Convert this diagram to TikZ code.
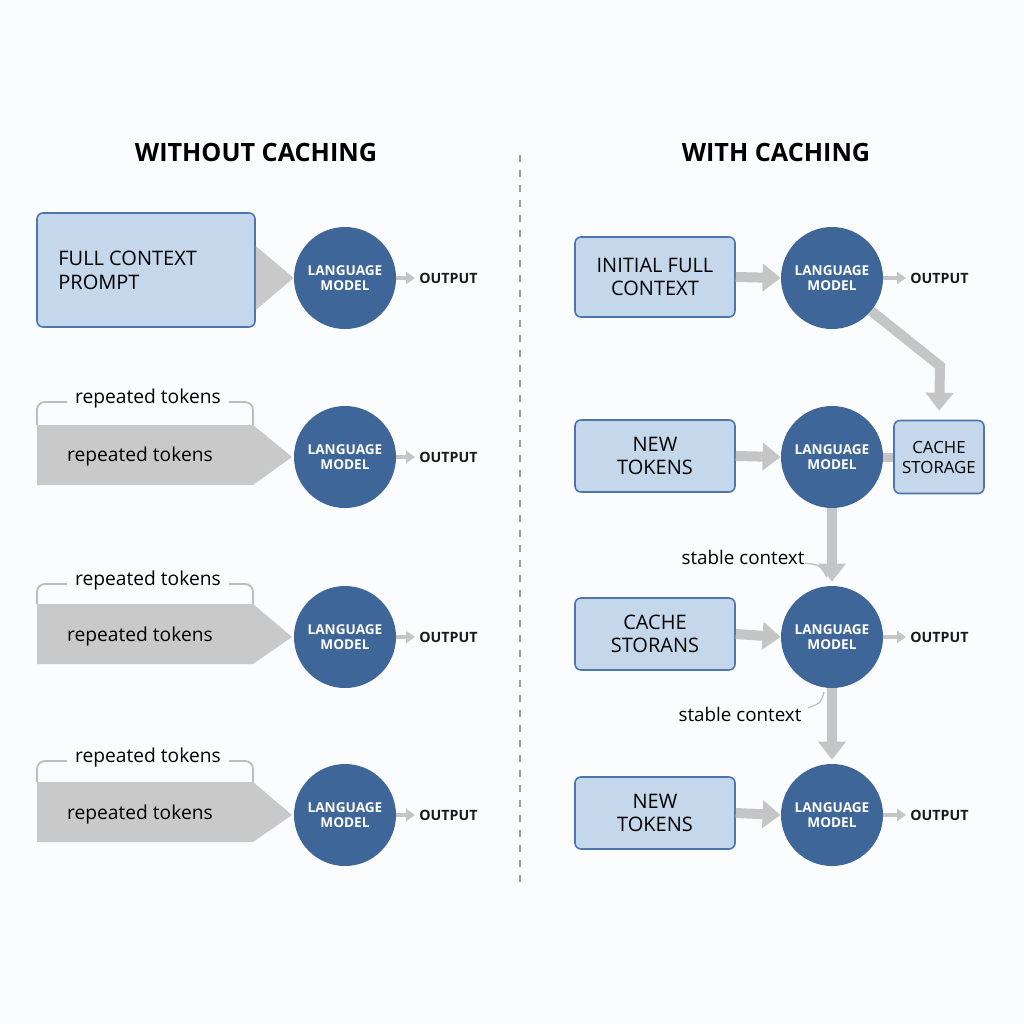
\documentclass[tikz,border=0pt]{standalone}
\usepackage{fontspec}
\setmainfont{Open Sans}
\usetikzlibrary{arrows.meta}
\definecolor{bgc}{HTML}{FBFCFD}
\definecolor{boxfill}{HTML}{C4D7EB}
\definecolor{boxdraw}{HTML}{4D76AE}
\definecolor{lmfill}{HTML}{3F6699}
\definecolor{agray}{HTML}{C5C5C5}
\definecolor{pgray}{HTML}{C9C9C9}
\definecolor{bgray}{HTML}{BDBDBD}
\definecolor{dgray}{HTML}{9A9A9A}
\definecolor{otxt}{HTML}{1A1A1A}
\tikzset{
  lm/.style={circle, fill=lmfill, minimum size=51pt, inner sep=0pt, text=white,
    font=\bfseries\fontsize{6.8}{7.8}\selectfont, align=center},
  bluebox/.style={draw=boxdraw, fill=boxfill, rounded corners=3pt, line width=0.8pt,
    font=\fontsize{10}{11.5}\selectfont, align=center, inner sep=0pt},
  outlbl/.style={font=\bfseries\fontsize{7.1}{9}\selectfont, text=otxt, anchor=west, inner sep=0pt},
  outarrow/.style={draw=agray, line width=2pt, -{Triangle[width=6pt,length=4.5pt]}},
  bigarrow/.style={draw=agray, line width=5pt, -{Triangle[width=13.5pt,length=9pt]}},
  bracketline/.style={draw=bgray, line width=0.9pt, rounded corners=4pt},
  reptxt/.style={font=\fontsize{9.6}{11}\selectfont, inner sep=0pt},
  titletxt/.style={font=\bfseries\fontsize{12.6}{14}\selectfont, inner sep=0pt},
  ctxtxt/.style={font=\fontsize{9.4}{11}\selectfont, inner sep=0pt},
}
\begin{document}
\begin{tikzpicture}[x=0.5pt,y=-0.5pt]
\useasboundingbox (0,0) rectangle (1024,1024);
\fill[bgc] (0,0) rectangle (1024,1024);

% titles
\node[titletxt] (t1) at (256,152) {WITHOUT CACHING};
\node[titletxt] (t2) at (776,152) {WITH CACHING};
\coordinate (dtop) at (520,155);
\coordinate (dbot) at (520,882);
\draw[dgray, line width=0.7pt, dash pattern=on 3.5pt off 4pt] (dtop) -- (dbot);

% ---------------- left column ----------------
% row 1
\node[bluebox, minimum width=109pt, minimum height=57pt] (fcp) at (146,270) {};
\node[font=\fontsize{10}{12}\selectfont, align=left, anchor=west, inner sep=0pt] (fcpt) at (58,270) {FULL CONTEXT\\PROMPT};
\node[lm] (lmL1) at (345,278) {LANGUAGE\\MODEL};
\fill[pgray] (fcp.east |- 0,246) -- (fcp.east |- 0,310) -- (lmL1.west) -- cycle;
\node[outlbl] (oL1) at (419,278) {OUTPUT};
\draw[outarrow] (lmL1.east) -- ([xshift=-2pt]oL1.west);

% rows 2-4
\foreach \r/\yt/\yb/\yc/\yl in {2/425/485/457/399, 3/604/664/637/581, 4/782/842/815/758}{
  \fill[pgray] (37,\yt) -- (253,\yt) -- (292,\yc) -- (253,\yb) -- (37,\yb) -- cycle;
  \node[reptxt] (repL\r) at (140,\yc) {repeated tokens};
  \node[reptxt] (brL\r) at (148,\yl) {repeated tokens};
  \draw[bracketline] (37,\yt) -- (37,\yl+3) -- ([xshift=-4pt]brL\r.west |- 0,\yl+3);
  \draw[bracketline] ([xshift=4pt]brL\r.east |- 0,\yl+3) -- (253,\yl+3) -- (253,\yt);
  \node[lm] (lmL\r) at (345,\yc) {LANGUAGE\\MODEL};
  \node[outlbl] (oL\r) at (419,\yc) {OUTPUT};
  \draw[outarrow] (lmL\r.east) -- ([xshift=-2pt]oL\r.west);
}

% ---------------- right column ----------------
\node[bluebox, minimum width=80pt, minimum height=40pt] (ifc) at (655,277) {INITIAL FULL\\CONTEXT};
\node[bluebox, minimum width=80pt, minimum height=36pt] (nt1) at (655,456) {NEW\\TOKENS};
\node[bluebox, minimum width=80pt, minimum height=36pt] (cst) at (655,634) {CACHE\\STORANS};
\node[bluebox, minimum width=80pt, minimum height=36pt] (nt2) at (655,813) {NEW\\TOKENS};
\node[bluebox, minimum width=45pt, minimum height=36.5pt, font=\fontsize{8.4}{10}\selectfont] (cache) at (939,457) {CACHE\\STORAGE};

\node[lm] (lmR1) at (832,278) {LANGUAGE\\MODEL};
\node[lm] (lmR2) at (832,457) {LANGUAGE\\MODEL};
\node[lm] (lmR3) at (832,637) {LANGUAGE\\MODEL};
\node[lm] (lmR4) at (832,815) {LANGUAGE\\MODEL};

\draw[bigarrow] (ifc.east) -- (lmR1.west);
\draw[bigarrow] (nt1.east) -- (lmR2.west);
\draw[bigarrow] (cst.east) -- (lmR3.west);
\draw[bigarrow] (nt2.east) -- (lmR4.west);

\foreach \r in {1,3,4}{
  \node[outlbl] (oR\r) at (910,0 |- lmR\r.center) {OUTPUT};
  \draw[outarrow] (lmR\r.east) -- ([xshift=-2pt]oR\r.west);
}

\coordinate (bend) at (940,366);
\draw[bigarrow, line join=miter, shorten >=4.5pt] (lmR1.-40) -- (bend) -- (cache.north);
\draw[draw=agray, line width=4.5pt] (lmR2.east) -- (cache.west);

\draw[bigarrow, shorten >=2pt] (lmR2.south) -- (lmR3.north);
\draw[bigarrow, shorten >=2pt] (lmR3.south) -- (lmR4.north);

\node[ctxtxt] (sc1) at (743,557) {stable context};
\node[ctxtxt] (sc2) at (740,714) {stable context};
\draw[bgray, line width=0.6pt] (sc1.east |- 0,563) .. controls (820,565) .. (827,577);
\draw[bgray, line width=0.6pt] ([xshift=3pt]sc2.east |- 0,708) .. controls (821,703) .. (824,692);
\end{tikzpicture}
\end{document}
